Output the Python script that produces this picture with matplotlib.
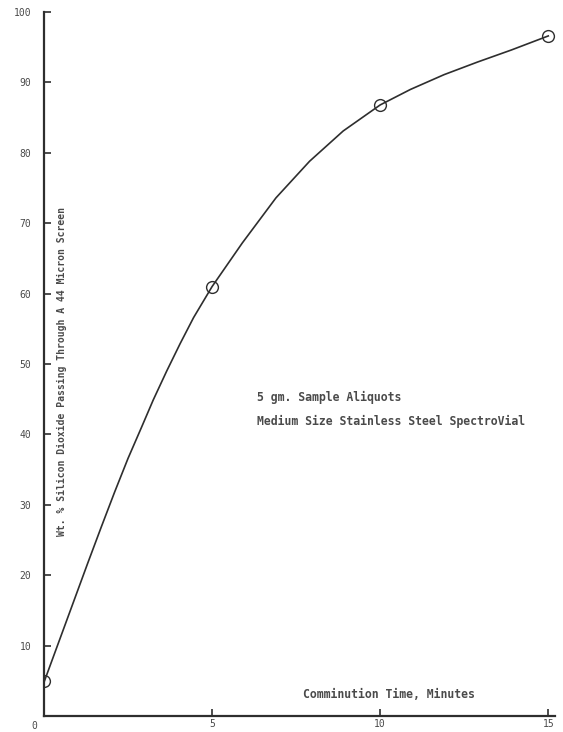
import matplotlib.pyplot as plt

# measured points (circles)
time_min = [0, 5, 10, 15]
pct_passing = [5, 61, 86.8, 96.6]

# hand-drawn smooth curve
curve_t = [0, 0.3, 1.0, 1.3, 1.7, 2.1, 2.5, 2.9, 3.25, 3.65, 4.05, 4.45, 5,
           5.9, 6.9, 7.9, 8.9, 10, 10.9, 11.9, 12.9, 13.9, 15]
curve_y = [4.8, 8.7, 17.8, 21.7, 26.8, 31.8, 36.6, 41.0, 44.9, 49.0, 52.9, 56.6, 61,
           67.2, 73.6, 78.8, 83.1, 86.8, 89.0, 91.1, 92.9, 94.6, 96.6]

x_ticks = [5, 10, 15]
y_ticks = [10, 20, 30, 40, 50, 60, 70, 80, 90, 100]

ink = "#2e2e2e"
txt = "#4a4a4a"
mono = "DejaVu Sans Mono"

fig = plt.figure(figsize=(5.63, 7.32), dpi=100)
ax = fig.add_axes([44 / 563, 16 / 732, 511 / 563, 704 / 732])

ax.plot(curve_t, curve_y, color=ink, linewidth=1.2, solid_joinstyle="round")
ax.plot(time_min, pct_passing, linestyle="none", marker="o", markersize=8.5,
        markerfacecolor="none", markeredgecolor=ink, markeredgewidth=1.0)

ax.set_xlim(0, 15.2)
ax.set_ylim(0, 100)

for side in ["top", "right"]:
    ax.spines[side].set_visible(False)
for side in ["left", "bottom"]:
    ax.spines[side].set_color(ink)
    ax.spines[side].set_linewidth(1.6)

ax.set_xticks(x_ticks)
ax.set_xticklabels([str(t) for t in x_ticks])
ax.set_yticks(y_ticks)
ax.set_yticklabels([str(t) for t in y_ticks])
ax.tick_params(direction="in", length=5, width=1.2, color=ink,
               labelcolor=txt, labelsize=7)
ax.tick_params(axis="y", pad=9)
ax.tick_params(axis="x", pad=2.5)
for lab in ax.get_xticklabels() + ax.get_yticklabels():
    lab.set_family(mono)

ax.annotate("0", xy=(0, 0), xytext=(-7, -7), textcoords="offset points",
            ha="center", va="center", fontsize=7, color=txt, family=mono)

ax.text(0.035, 0.49, "Wt. % Silicon Dioxide Passing Through A 44 Micron Screen",
        transform=ax.transAxes, rotation=90, ha="center", va="center",
        fontsize=7, color=txt, family=mono, fontweight="bold")

ax.text(6.34, 45.3, "5 gm. Sample Aliquots", ha="left", va="center",
        fontsize=8.3, color=txt, family=mono, fontweight="bold")
ax.text(6.34, 41.8, "Medium Size Stainless Steel SpectroVial", ha="left",
        va="center", fontsize=8.3, color=txt, family=mono, fontweight="bold")
ax.text(7.7, 3.1, "Comminution Time, Minutes", ha="left", va="center",
        fontsize=8.3, color=txt, family=mono, fontweight="bold")

fig.savefig("out.png", dpi=100, facecolor="white")
